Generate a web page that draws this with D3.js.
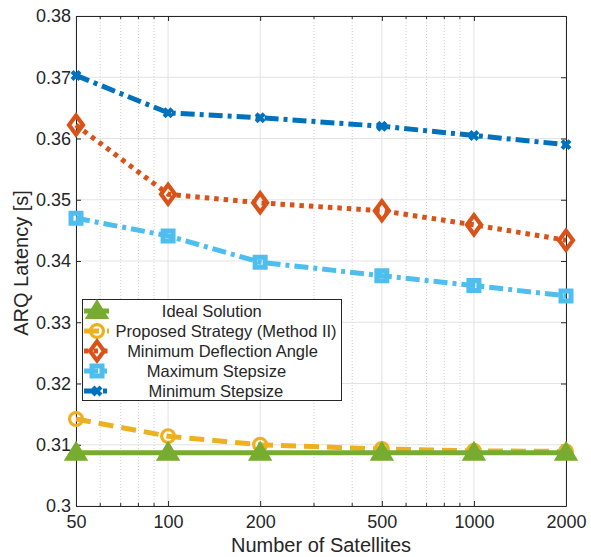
<!DOCTYPE html>
<html>
<head>
<meta charset="utf-8">
<script src="https://cdn.jsdelivr.net/npm/d3@7"></script>
<style>
  body { margin: 0; background: #fff; }
  text { font-family: "Liberation Sans", Arial, sans-serif; fill: #262626; }
</style>
</head>
<body>
<div id="chart"></div>
<script>
const satellites = [50, 100, 200, 500, 1000, 2000];
const xTicks = [50, 100, 200, 500, 1000, 2000];
const yTicks = [0.3, 0.31, 0.32, 0.33, 0.34, 0.35, 0.36, 0.37, 0.38];

const idealSolution = [0.3087, 0.3087, 0.3087, 0.3087, 0.3087, 0.3087];
const proposedStrategy = [0.3142, 0.3114, 0.3100, 0.3093, 0.3090, 0.3089];
const minDeflection = [0.3622, 0.3509, 0.3495, 0.3482, 0.3459, 0.3434];
const maxStepsize = [0.3470, 0.3441, 0.3398, 0.3376, 0.3360, 0.3343];
const minStepsize = [0.3703, 0.3642, 0.3634, 0.3620, 0.3605, 0.3590];

const seriesNames = ["Ideal Solution", "Proposed Strategy (Method II)",
  "Minimum Deflection Angle", "Maximum Stepsize", "Minimum Stepsize"];

const W = 591, H = 557;
const margin = { left: 76, right: 25, top: 16, bottom: 51 };

const svg = d3.select("#chart").append("svg")
  .attr("width", W).attr("height", H);

const x = d3.scaleLog().domain([50, 2000]).range([margin.left, W - margin.right]);
const y = d3.scaleLinear().domain([0.3, 0.38]).range([H - margin.bottom, margin.top]);

const minorX = [60, 70, 80, 90, 300, 400, 600, 700, 800, 900];

// grid
const grid = svg.append("g");
grid.selectAll(".minor").data(minorX).enter().append("line")
  .attr("x1", d => x(d)).attr("x2", d => x(d))
  .attr("y1", y(0.3)).attr("y2", y(0.38))
  .attr("stroke", "#d0d0d0").attr("stroke-width", 1)
  .attr("stroke-dasharray", "1,2");
grid.selectAll(".majx").data(xTicks).enter().append("line")
  .attr("x1", d => x(d)).attr("x2", d => x(d))
  .attr("y1", y(0.3)).attr("y2", y(0.38))
  .attr("stroke", "#e3e3e3").attr("stroke-width", 1);
grid.selectAll(".majy").data(yTicks).enter().append("line")
  .attr("x1", x(50)).attr("x2", x(2000))
  .attr("y1", d => y(d)).attr("y2", d => y(d))
  .attr("stroke", "#e3e3e3").attr("stroke-width", 1);

// axes (ticks inward)
const axisColor = "#262626";
function styleAxis(g) {
  g.select(".domain").attr("stroke", axisColor);
  g.selectAll(".tick line").attr("stroke", axisColor);
  g.selectAll(".tick text").attr("font-size", 18)
    .attr("font-family", "Liberation Sans, Arial, sans-serif").attr("fill", axisColor);
}
svg.append("g").attr("transform", `translate(0,${y(0.3)})`)
  .call(d3.axisBottom(x).tickValues(xTicks).tickFormat(d3.format("d"))
    .tickSizeInner(-5).tickSizeOuter(0).tickPadding(9))
  .call(styleAxis);
svg.append("g").attr("transform", `translate(0,${y(0.38)})`)
  .call(d3.axisTop(x).tickValues(xTicks).tickFormat("").tickSizeInner(-5).tickSizeOuter(0))
  .call(styleAxis);
svg.append("g").attr("transform", `translate(${x(50)},0)`)
  .call(d3.axisLeft(y).tickValues(yTicks).tickFormat(d => d === 0.3 ? "0.3" : d3.format(".2f")(d))
    .tickSizeInner(-5).tickSizeOuter(0).tickPadding(5))
  .call(styleAxis);
svg.append("g").attr("transform", `translate(${x(2000)},0)`)
  .call(d3.axisRight(y).tickValues(yTicks).tickFormat("").tickSizeInner(-5).tickSizeOuter(0))
  .call(styleAxis);

// minor ticks on x
[y(0.3), y(0.38)].forEach((yy, i) => {
  svg.append("g").selectAll("line").data(minorX).enter().append("line")
    .attr("x1", d => x(d)).attr("x2", d => x(d))
    .attr("y1", yy).attr("y2", i === 0 ? yy - 3 : yy + 3)
    .attr("stroke", axisColor);
});

// labels
svg.append("text").attr("x", (x(50) + x(2000)) / 2).attr("y", 552)
  .attr("text-anchor", "middle").attr("font-size", 20).text("Number of Satellites");
svg.append("text").attr("transform", "translate(27.5,263) rotate(-90)")
  .attr("text-anchor", "middle").attr("font-size", 20).text("ARQ Latency [s]");

// series
const series = [
  { values: idealSolution, color: "#77AC30", dash: null, marker: "triangle" },
  { values: proposedStrategy, color: "#EDB120", dash: "15,8", marker: "circle" },
  { values: minDeflection, color: "#D95319", dash: "4.5,5", marker: "diamond" },
  { values: maxStepsize, color: "#4DBEEE", dash: "14,5,4,5", marker: "square" },
  { values: minStepsize, color: "#0072BD", dash: "14,5,4,5", marker: "x" }
];

function markerPath(type) {
  switch (type) {
    case "triangle": return "M0,-8L8.5,6L-8.5,6Z";
    case "circle": return d3.symbol().type(d3.symbolCircle).size(130)();
    case "diamond": return "M0,-9.5L7,0L0,9.5L-7,0Z";
    case "square": return "M-5,-5H5V5H-5Z";
    case "x": return "M-4,-4L4,4M-4,4L4,-4";
  }
}
function markerWidth(type) {
  return type === "circle" ? 3.2 : (type === "square" ? 5 : 4.2);
}

const line = d3.line().x((d, i) => x(satellites[i])).y(d => y(d));
const plot = svg.append("g");

series.slice().reverse().forEach(s => {
  plot.append("path").datum(s.values).attr("d", line)
    .attr("fill", "none").attr("stroke", s.color).attr("stroke-width", 5)
    .attr("stroke-dasharray", s.dash);
  plot.selectAll(null).data(s.values).enter().append("path")
    .attr("transform", (d, i) => `translate(${x(satellites[i])},${y(d)})`)
    .attr("d", markerPath(s.marker))
    .attr("fill", s.marker === "triangle" ? s.color : "none")
    .attr("stroke", s.color)
    .attr("stroke-width", markerWidth(s.marker));
});

// legend
const lg = svg.append("g");
lg.append("rect").attr("x", 82.5).attr("y", 299.5).attr("width", 259).attr("height", 101)
  .attr("fill", "#fff").attr("stroke", "#262626").attr("stroke-width", 1);
series.forEach((s, i) => {
  const cy = 311 + i * 20;
  lg.append("line").attr("x1", 84).attr("x2", 109).attr("y1", cy).attr("y2", cy)
    .attr("stroke", s.color).attr("stroke-width", 5).attr("stroke-dasharray", s.dash);
  lg.append("path").attr("transform", `translate(97,${cy})`).attr("d", markerPath(s.marker))
    .attr("fill", s.marker === "triangle" ? s.color : "none")
    .attr("stroke", s.color)
    .attr("stroke-width", markerWidth(s.marker));
  const t = lg.append("text").attr("y", cy + 6).attr("text-anchor", "middle")
    .attr("font-size", 16.5).text(seriesNames[i]);
  // longer labels sit a little further right, as in the original legend
  const w = t.node().getComputedTextLength();
  t.attr("x", 200 + 0.118 * w);
});
</script>
</body>
</html>
